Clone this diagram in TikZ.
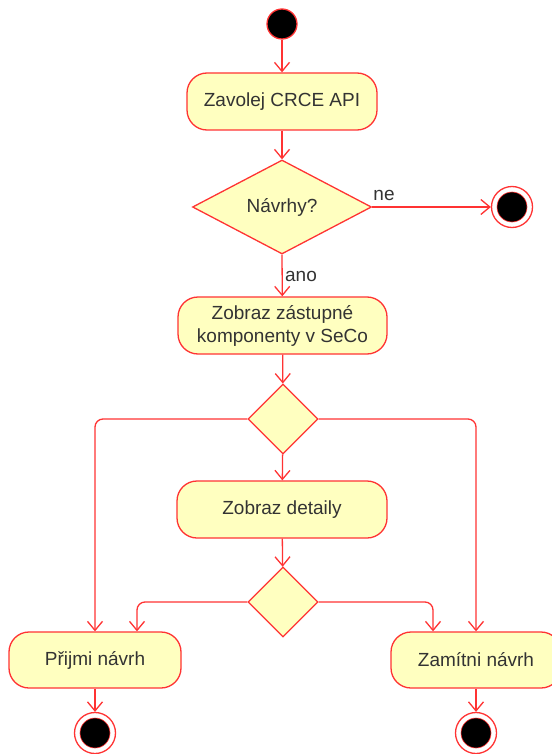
\documentclass[tikz,border=0pt]{standalone}
\usepackage{fontspec}
\setmainfont{Liberation Sans}
\usetikzlibrary{shapes.geometric,arrows.meta}
\definecolor{lred}{HTML}{FF3333}
\definecolor{lfill}{HTML}{FFFFC0}
\definecolor{ltext}{HTML}{333333}
\tikzset{
  act/.style={draw=lred, fill=lfill, line width=1.3pt, rounded corners=20pt,
    minimum height=57pt, align=center, text=ltext, font=\fontsize{19}{23}\selectfont, inner sep=0pt},
  dec/.style={draw=lred, fill=lfill, line width=1.3pt, shape=diamond, inner sep=0pt,
    text=ltext, font=\fontsize{19}{23}\selectfont},
  startnode/.style={circle, draw=lred, fill=black, line width=1.3pt, minimum size=30pt, inner sep=0pt},
  endnode/.style={circle, draw=lred, fill=white, line width=1.3pt, minimum size=41pt, inner sep=0pt},
  flow/.style={draw=lred, line width=1.3pt, -{Straight Barb[length=9pt,width=15pt,line width=1.3pt]}},
  lbl/.style={text=ltext, font=\fontsize{19}{23}\selectfont, inner sep=0pt}
}
\newcommand{\finaldot}[1]{\fill[black, draw=lred, line width=0.6pt] (#1) circle (15pt);}
\begin{document}
\begin{tikzpicture}[x=1pt,y=-1pt]
\useasboundingbox (0,0) rectangle (551,754);
\node[startnode] (start) at (282,24) {};
\node[act, minimum width=190pt] (call) at (282,101.5) {Zavolej CRCE API};
\node[dec, minimum width=179pt, minimum height=94pt] (d1) at (282,207) {Návrhy?};
\node[endnode] (end1) at (512,207) {};
\finaldot{end1}
\node[act, minimum width=209pt] (show) at (282.5,325.5) {Zobraz zástupné\\komponenty v SeCo};
\node[dec, minimum width=70pt, minimum height=70pt] (d2) at (283,419) {};
\node[act, minimum width=210pt] (det) at (282,509.5) {Zobraz detaily};
\node[dec, minimum width=70pt, minimum height=70pt] (d3) at (283,602) {};
\node[act, minimum width=172pt, minimum height=56pt] (acc) at (95,660) {Přijmi návrh};
\node[act, minimum width=170pt, minimum height=56pt] (rej) at (476,660) {Zamítni návrh};
\node[endnode] (end2) at (95,733) {};
\finaldot{end2}
\node[endnode] (end3) at (476,733) {};
\finaldot{end3}

\draw[flow] (start) -- (call);
\draw[flow] (call) -- (d1);
\draw[flow] (d1.east) -- (end1);
\node[lbl] (ne) at (384,195) {ne};
\draw[flow] (d1.south) -- (show);
\node[lbl] (ano) at (301,276) {ano};
\draw[flow] (show) -- (d2);
\draw[flow] (d2) -- (det);
\draw[flow, rounded corners=8pt] (d2.west) -| (acc.north);
\draw[flow, rounded corners=8pt] (d2.east) -| (rej.north);
\draw[flow] (det) -- (d3);
\draw[flow, rounded corners=8pt] (d3.west) -| ([xshift=42pt]acc.north);
\draw[flow, rounded corners=8pt] (d3.east) -| ([xshift=-43pt]rej.north);
\draw[flow] (acc) -- (end2);
\draw[flow] (rej) -- (end3);
\end{tikzpicture}
\end{document}
